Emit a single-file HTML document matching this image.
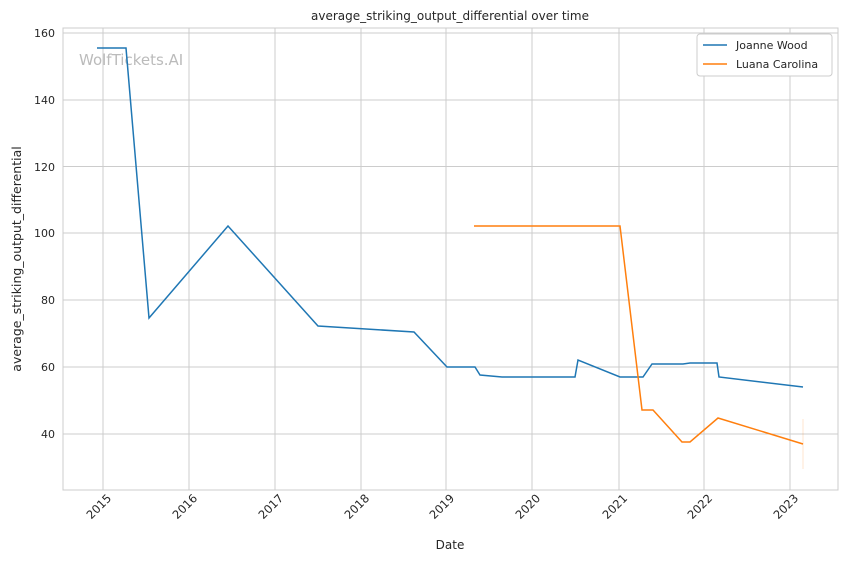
<!DOCTYPE html>
<html><head><meta charset="utf-8"><style>body{margin:0;background:#fff}svg{display:block;font-family:"DejaVu Sans","Liberation Sans",sans-serif}</style></head><body>
<svg width="848" height="561" viewBox="0 0 848 561">
<g stroke="#cccccc" stroke-width="1">
<line x1="63" x2="838" y1="33" y2="33"/><line x1="63" x2="838" y1="100" y2="100"/><line x1="63" x2="838" y1="166.5" y2="166.5"/><line x1="63" x2="838" y1="233" y2="233"/><line x1="63" x2="838" y1="300" y2="300"/><line x1="63" x2="838" y1="367" y2="367"/><line x1="63" x2="838" y1="434" y2="434"/>
<line y1="28" y2="490" x1="103" x2="103"/><line y1="28" y2="490" x1="189" x2="189"/><line y1="28" y2="490" x1="275" x2="275"/><line y1="28" y2="490" x1="361" x2="361"/><line y1="28" y2="490" x1="446" x2="446"/><line y1="28" y2="490" x1="532" x2="532"/><line y1="28" y2="490" x1="619" x2="619"/><line y1="28" y2="490" x1="704" x2="704"/><line y1="28" y2="490" x1="790" x2="790"/>
<rect x="63" y="28" width="775" height="462" fill="none"/>
</g>
<text x="79" y="65" font-size="15" fill="#bbbbbb">WolfTickets.AI</text>
<polyline fill="none" stroke="#1f77b4" stroke-width="1.5" points="97,48 126,48 149,318 228,226 318,326 414,332 447,367 475,367 480,375 502,377 575,377 578,360 620,377 643,377 652,364 683,364 690,363 717,363 719,377 803,387"/>
<polyline fill="none" stroke="#ff7f0e" stroke-width="1.5" points="474,226 620,226 642,410 653,410 682,442 690,442 718,418 803,444"/>
<line x1="803" x2="803" y1="419" y2="469" stroke="#ff7f0e" stroke-opacity="0.2"/>
<g font-size="11" fill="#262626" text-anchor="end">
<text x="55" y="37">160</text><text x="55" y="104">140</text><text x="55" y="171">120</text><text x="55" y="237">100</text><text x="55" y="304">80</text><text x="55" y="371">60</text><text x="55" y="438">40</text>
</g>
<g font-size="11.5" fill="#262626" text-anchor="end">
<text transform="translate(112,499) rotate(-45)">2015</text><text transform="translate(198,499) rotate(-45)">2016</text><text transform="translate(284,499) rotate(-45)">2017</text><text transform="translate(370,499) rotate(-45)">2018</text><text transform="translate(455,499) rotate(-45)">2019</text><text transform="translate(541,499) rotate(-45)">2020</text><text transform="translate(628,499) rotate(-45)">2021</text><text transform="translate(713,499) rotate(-45)">2022</text><text transform="translate(799,499) rotate(-45)">2023</text>
</g>
<text x="450" y="549" font-size="12" fill="#262626" text-anchor="middle">Date</text>
<text transform="translate(21,259) rotate(-90)" font-size="12.5" fill="#262626" text-anchor="middle">average_striking_output_differential</text>
<text x="450" y="20" font-size="12" fill="#262626" text-anchor="middle">average_striking_output_differential over time</text>
<rect x="697" y="34" width="135" height="42" rx="3" fill="#fff" stroke="#cccccc"/>
<line x1="703" x2="727" y1="45" y2="45" stroke="#1f77b4" stroke-width="1.5"/>
<line x1="703" x2="727" y1="64" y2="64" stroke="#ff7f0e" stroke-width="1.5"/>
<text x="736" y="49" font-size="11" fill="#262626">Joanne Wood</text>
<text x="736" y="68" font-size="11" fill="#262626">Luana Carolina</text>
</svg>
</body></html>
